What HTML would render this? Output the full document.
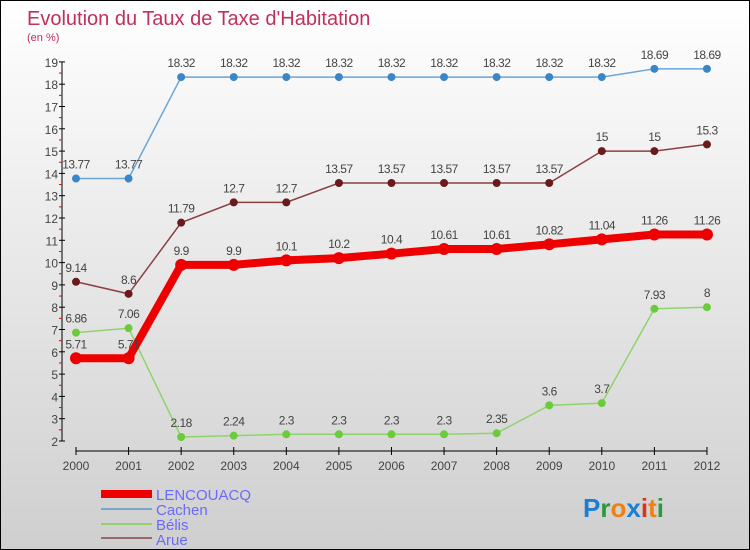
<!DOCTYPE html>
<html><head><meta charset="utf-8"><style>
body{margin:0;width:750px;height:550px;overflow:hidden;font-family:"Liberation Sans",sans-serif}
#c{position:relative;width:748px;height:548px;border:1px solid #000;background:linear-gradient(#fff,#cfcfcf)}
</style></head><body>
<div id="c">
<svg id="s" width="748" height="548" style="position:absolute;left:0;top:0">
<text x="26" y="24" font-size="20" fill="#c0305a">Evolution du Taux de Taxe d'Habitation</text>
<text x="26" y="40" font-size="11" fill="#c0305a">(en %)</text>
<g id="axes"></g><g id="series"></g>
<g>
<rect x="100" y="489" width="51" height="8" fill="#e00"/>
<text x="155" y="499" font-size="15" fill="#6a6aff">LENCOUACQ</text>
<rect x="100" y="507" width="51" height="2" fill="#7aa7c7"/>
<text x="155" y="514" font-size="15" fill="#6a6aff">Cachen</text>
<rect x="100" y="522" width="51" height="2" fill="#8fd46a"/>
<text x="155" y="529" font-size="15" fill="#6a6aff">Bélis</text>
<rect x="100" y="536" width="51" height="2" fill="#9a6a6a"/>
<text x="155" y="544" font-size="15" fill="#6a6aff">Arue</text>
</g>
<text x="582" y="516" font-size="26" font-weight="bold"><tspan fill="#1a7fd4">P</tspan><tspan fill="#2a9a3a">r</tspan><tspan fill="#f08010">o</tspan><tspan fill="#1a7fd4">x</tspan><tspan fill="#e03020">i</tspan><tspan fill="#f08010">t</tspan><tspan fill="#2a9a3a">i</tspan></text>
</svg>
</div>
<script>
const years=[2000,2001,2002,2003,2004,2005,2006,2007,2008,2009,2010,2011,2012];
const lencouacq=[5.71,5.71,9.9,9.9,10.1,10.2,10.4,10.61,10.61,10.82,11.04,11.26,11.26];
const cachen=[13.77,13.77,18.32,18.32,18.32,18.32,18.32,18.32,18.32,18.32,18.32,18.69,18.69];
const belis=[6.86,7.06,2.18,2.24,2.3,2.3,2.3,2.3,2.35,3.6,3.7,7.93,8];
const arue=[9.14,8.6,11.79,12.7,12.7,13.57,13.57,13.57,13.57,13.57,15,15,15.3];
const yTicks=[2,3,4,5,6,7,8,9,10,11,12,13,14,15,16,17,18,19];
const NS="http://www.w3.org/2000/svg";
const x=i=>75+i*52.58;
const y=v=>440-(v-2)*22.3;
function mk(p,t,a){const e=document.createElementNS(NS,t);for(const k in a)e.setAttribute(k,a[k]);p.appendChild(e);return e;}
const ax=document.getElementById('axes');
let l=mk(ax,'line',{x1:61,y1:y(19),x2:61,y2:y(2),stroke:'#000'});


l=mk(ax,'line',{x1:75,y1:450,x2:x(12),y2:450,stroke:'#000'});


yTicks.forEach(v=>{
 mk(ax,'line',{x1:58,y1:y(v),x2:64,y2:y(v),stroke:'#000'});
 if(v<19)mk(ax,'line',{x1:58,y1:y(v+0.5),x2:61,y2:y(v+0.5),stroke:'#e00'});
 const t=mk(ax,'text',{x:57,y:y(v)+5,'font-size':12,fill:'#444','text-anchor':'end'});
 t.textContent=v;
 
 
});
years.forEach((yr,i)=>{
 mk(ax,'line',{x1:x(i),y1:446,x2:x(i),y2:454,stroke:'#000'});
 const t=mk(ax,'text',{x:x(i),y:469,'font-size':12,fill:'#444','text-anchor':'middle'});
 t.textContent=yr;
 
 
});
const sg=document.getElementById('series');
function series(name,vals,col,dot,w,r){
 const g=mk(sg,'g',{});
 
 
 const p=mk(g,'polyline',{points:vals.map((v,i)=>x(i)+','+y(v)).join(' '),fill:'none',stroke:col,'stroke-width':w});
 
 
 vals.forEach((v,i)=>{
  const c=mk(g,'circle',{cx:x(i),cy:y(v),r:r,fill:dot});
  
  
  const t=mk(g,'text',{x:x(i),y:y(v)-10,'font-size':12,fill:'#444','text-anchor':'middle','letter-spacing':'-0.5'});
  t.textContent=v;
  
  
 });
}
series('cachen',cachen,'#6aa6d6','#3a86c6',1.5,4);
series('arue',arue,'#8a4040','#6a1a1a',1.5,4);
series('belis',belis,'#8fd46a','#6acc3a',1.5,4);
series('lencouacq',lencouacq,'#e00','#e00',8,6);
</script>
</body></html>
